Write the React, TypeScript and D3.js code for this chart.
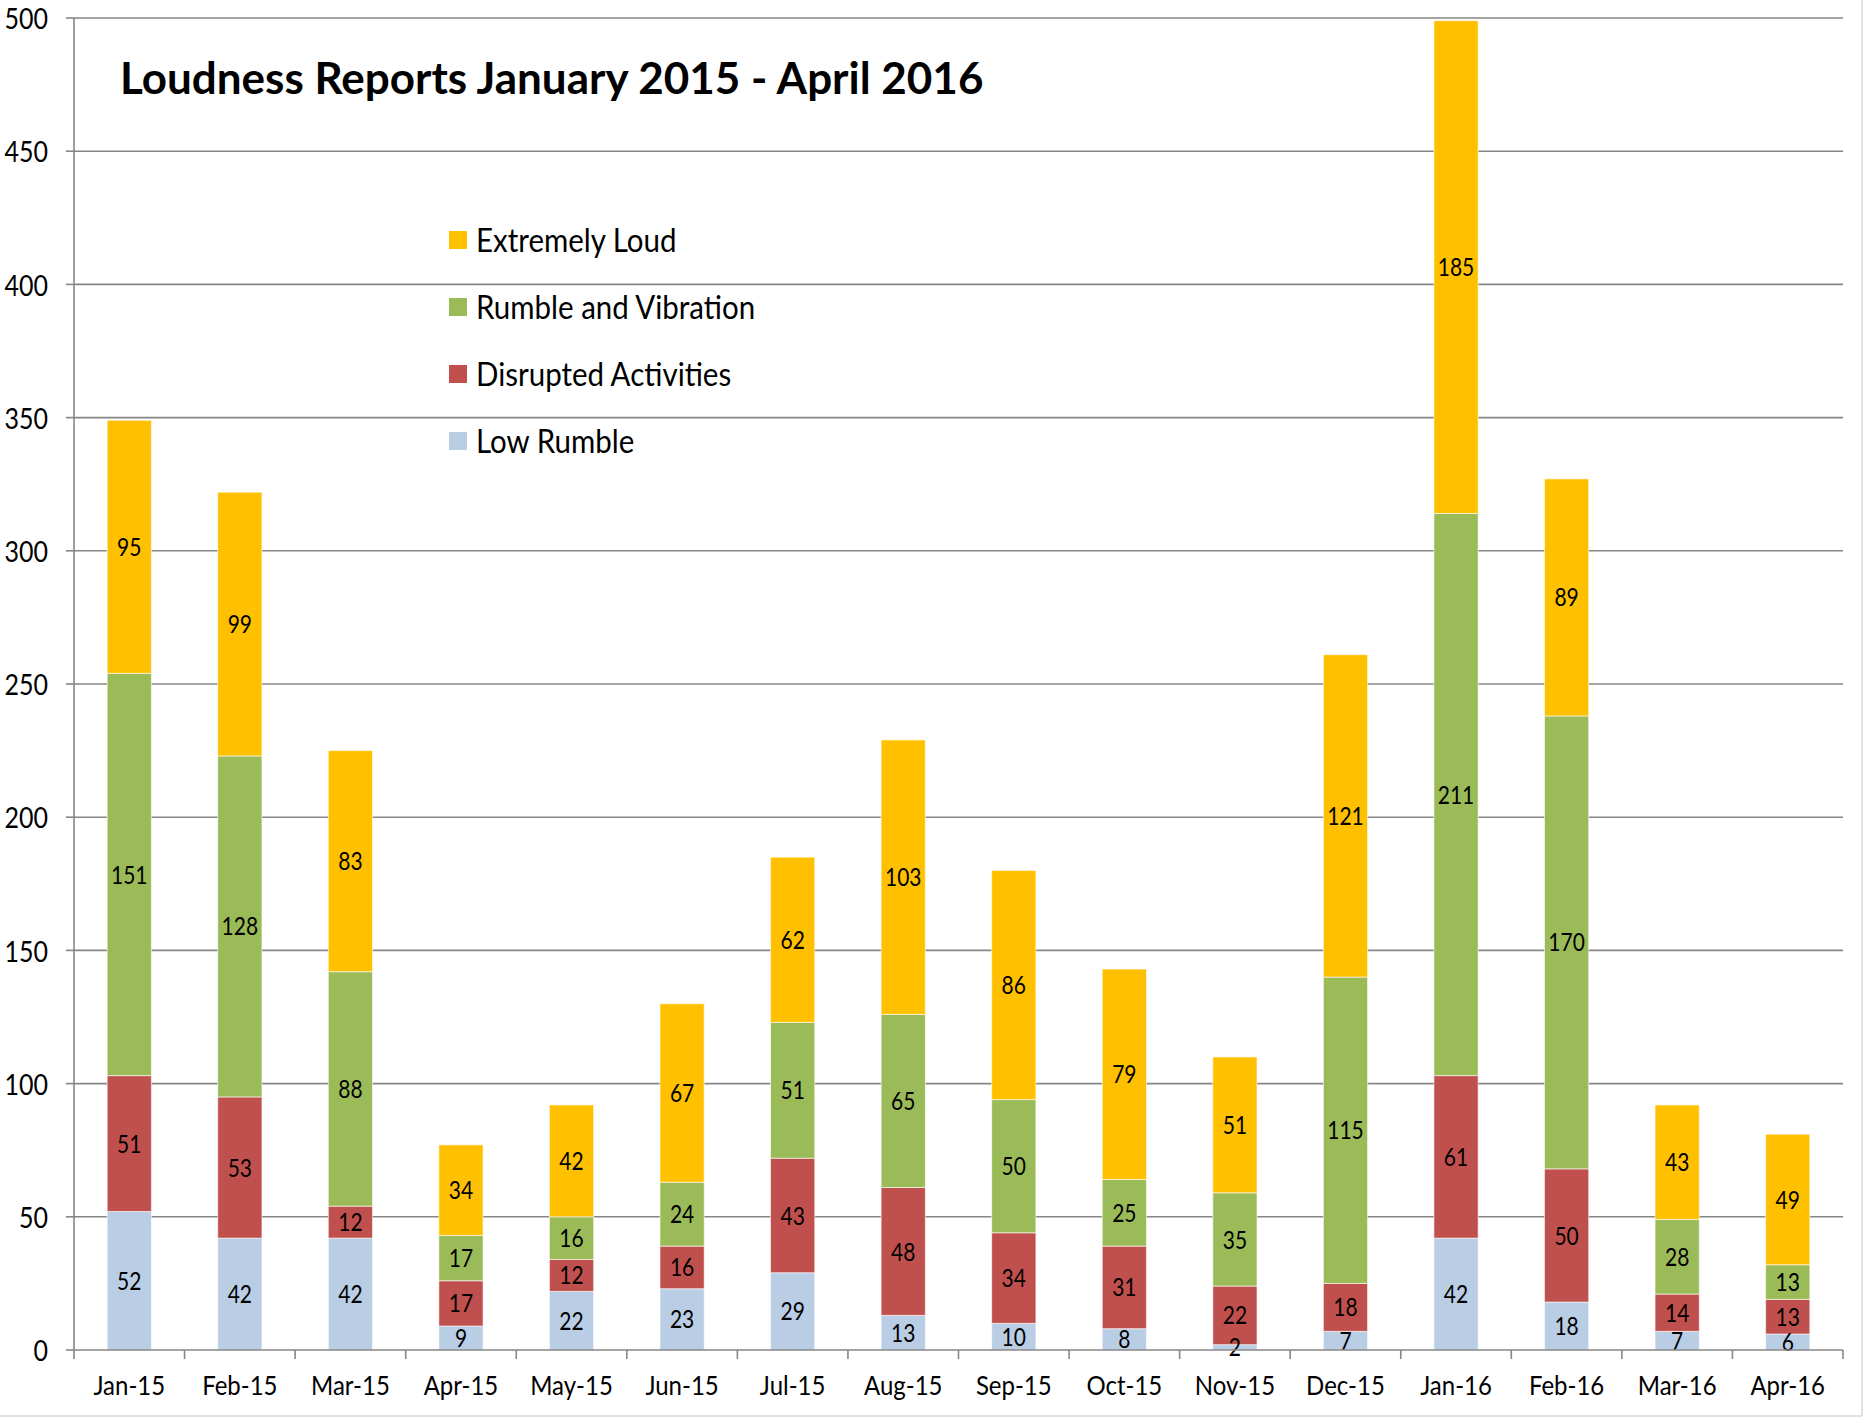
import React from "react";
import * as d3 from "d3";

const months = [
  "Jan-15", "Feb-15", "Mar-15", "Apr-15", "May-15", "Jun-15", "Jul-15", "Aug-15",
  "Sep-15", "Oct-15", "Nov-15", "Dec-15", "Jan-16", "Feb-16", "Mar-16", "Apr-16",
];

const lowRumble = [52, 42, 42, 9, 22, 23, 29, 13, 10, 8, 2, 7, 42, 18, 7, 6];
const disrupted = [51, 53, 12, 17, 12, 16, 43, 48, 34, 31, 22, 18, 61, 50, 14, 13];
const rumbleVibration = [151, 128, 88, 17, 16, 24, 51, 65, 50, 25, 35, 115, 211, 170, 28, 13];
const extremelyLoud = [95, 99, 83, 34, 42, 67, 62, 103, 86, 79, 51, 121, 185, 89, 43, 49];

const yTicks = [0, 50, 100, 150, 200, 250, 300, 350, 400, 450, 500];

const seriesNames = ["Low Rumble", "Disrupted Activities", "Rumble and Vibration", "Extremely Loud"];
const seriesColors = ["#b9cde5", "#c0504d", "#9bbb59", "#ffc000"];
const legendOrder = [3, 2, 1, 0];

const W = 1864;
const H = 1417;
const left = 74;
const right = 1843;
const top = 18;
const bottom = 1350;
const font = "Lato, 'Open Sans', sans-serif";
const grid = "#868686";

// text a little taller than wide, like the original's stretched Calibri
function Label({ x, y, size, anchor = "middle", sy = 1.15, weight = 400, children }: any) {
  return (
    <text
      transform={`translate(${x},${y}) scale(1,${sy})`}
      textAnchor={anchor}
      dominantBaseline="central"
      fontSize={size}
      fontWeight={weight}
      fill="#000"
    >
      {children}
    </text>
  );
}

export default function App() {
  const rows = months.map((m, i) => ({
    month: m,
    s0: lowRumble[i],
    s1: disrupted[i],
    s2: rumbleVibration[i],
    s3: extremelyLoud[i],
  }));
  const stacked = d3.stack<any>().keys(["s0", "s1", "s2", "s3"])(rows);

  const x = d3.scaleBand().domain(months).range([left, right]).paddingInner(0.6).paddingOuter(0.3);
  const y = d3.scaleLinear().domain([0, 500]).range([bottom, top]);
  const step = x.step();

  return (
    <svg
      width={W}
      height={H}
      style={{ position: "absolute", left: 0, top: 0, background: "#fff" }}
      fontFamily={font}
    >
      <rect x={0} y={0} width={W} height={H} fill="#fff" />
      {/* outer chart border (bottom / right) */}
      <line x1={0} x2={1862} y1={1416} y2={1416} stroke="#d9d9d9" strokeWidth={1.5} />
      <line x1={1862} x2={1862} y1={0} y2={1416} stroke="#d9d9d9" strokeWidth={1.5} />

      {/* gridlines + y axis */}
      {yTicks.map((t) => (
        <g key={t}>
          {t > 0 && (
            <line x1={left} x2={right} y1={y(t)} y2={y(t)} stroke={grid} strokeWidth={1.6} />
          )}
          <line x1={left - 8} x2={left} y1={y(t)} y2={y(t)} stroke={grid} strokeWidth={1.6} />
          <Label x={left - 26} y={y(t)} size={25} anchor="end">
            {t}
          </Label>
        </g>
      ))}
      <line x1={left} x2={left} y1={top} y2={bottom} stroke={grid} strokeWidth={1.6} />

      {/* bars */}
      {stacked.map((layer, si) => (
        <g key={si} fill={seriesColors[si]}>
          {layer.map((d, i) => (
            <rect
              key={i}
              x={x(months[i])}
              y={y(d[1])}
              width={x.bandwidth()}
              height={y(d[0]) - y(d[1])}
              stroke="#fff"
              strokeOpacity={0.6}
              strokeWidth={1}
            />
          ))}
        </g>
      ))}

      {/* data labels */}
      {stacked.map((layer, si) => (
        <g key={"l" + si}>
          {layer.map((d, i) => (
            <Label
              key={i}
              x={(x(months[i]) as number) + x.bandwidth() / 2}
              y={y((d[0] + d[1]) / 2)}
              size={21}
            >
              {d[1] - d[0]}
            </Label>
          ))}
        </g>
      ))}

      {/* x axis */}
      <line x1={left} x2={right} y1={bottom} y2={bottom} stroke={grid} strokeWidth={1.6} />
      {d3.range(months.length + 1).map((i) => (
        <line
          key={"t" + i}
          x1={left + i * step}
          x2={left + i * step}
          y1={bottom}
          y2={bottom + 9}
          stroke={grid}
          strokeWidth={1.6}
        />
      ))}
      {months.map((m) => (
        <Label key={"m" + m} x={(x(m) as number) + x.bandwidth() / 2} y={1384} size={24}>
          {m}
        </Label>
      ))}

      {/* title */}
      <text x={120} y={94} fontSize={44} fontWeight={700} fill="#000">
        Loudness Reports January 2015 - April 2016
      </text>

      {/* legend */}
      {legendOrder.map((si, k) => {
        const cy = 240 + k * 67;
        return (
          <g key={"lg" + si}>
            <rect x={449} y={cy - 9} width={18} height={18} fill={seriesColors[si]} />
            <Label x={476} y={cy} size={29.5} anchor="start" sy={1.08}>
              {seriesNames[si]}
            </Label>
          </g>
        );
      })}
    </svg>
  );
}
